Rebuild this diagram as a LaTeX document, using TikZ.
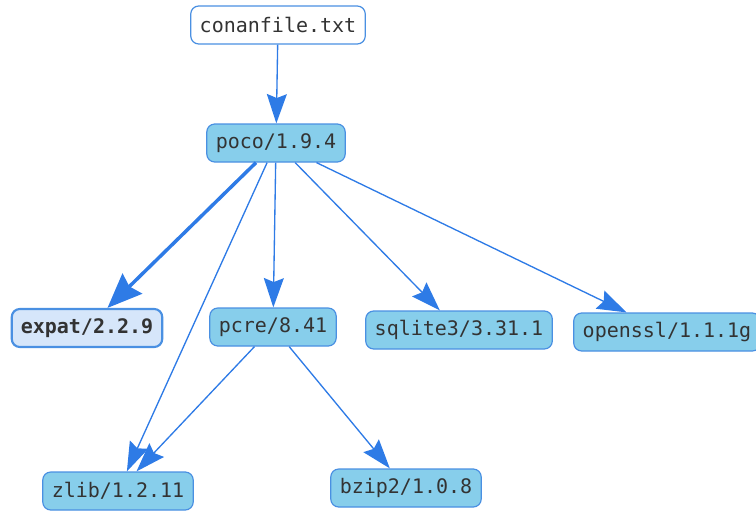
\documentclass[tikz,border=0pt]{standalone}
\usepackage{fontspec}
\setmonofont{DejaVu Sans Mono}
\usetikzlibrary{arrows.meta}
\definecolor{pkgfill}{HTML}{87CEEB}
\definecolor{pkgline}{HTML}{4A90E2}
\definecolor{edgeblue}{HTML}{2E7BE6}
\definecolor{rootfill}{HTML}{D6E6FA}
\definecolor{txtgray}{HTML}{333333}

\begin{document}
\begin{tikzpicture}[x=0.75pt,y=-0.75pt,
  pkg/.style={draw=pkgline, fill=pkgfill, rounded corners=6pt, line width=0.9pt,
    inner xsep=6.75pt, inner ysep=0pt, minimum height=28.5pt, text=txtgray,
    font=\ttfamily\fontsize{15}{18}\selectfont},
  dep/.style={draw=edgeblue, line width=1pt, -{Stealth[length=22pt,width=15pt,inset=3pt]}},
  root/.style={pkg, fill=white},
  direct/.style={pkg, fill=rootfill, line width=1.6pt, font=\ttfamily\bfseries\fontsize{15}{18}\selectfont}]
\useasboundingbox (0,0) rectangle (756,510);
% nodes
\node[root] (conanfile) at (278,25) {conanfile.txt};
\node[pkg] (poco) at (276,143) {poco/1.9.4};
\node[direct] (expat) at (87,328) {expat/2.2.9};
\node[pkg] (pcre) at (273,327) {pcre/8.41};
\node[pkg] (sqlite) at (459,330) {sqlite3/3.31.1};
\node[pkg] (openssl) at (667,332) {openssl/1.1.1g};
\node[pkg] (zlib) at (118,491) {zlib/1.2.11};
\node[pkg] (bzip) at (406,488) {bzip2/1.0.8};
% edges
\draw[dep] (conanfile) -- (poco);
\draw[dep, line width=2.6pt, -{Stealth[length=26pt,width=21pt,inset=3pt]}] (poco) -- (expat);
\draw[dep] (poco) -- (zlib);
\draw[dep] (poco) -- (pcre);
\draw[dep] (poco) -- (sqlite);
\draw[dep] (poco) -- (openssl);
\draw[dep] (pcre) -- (zlib);
\draw[dep] (pcre) -- (bzip);
\end{tikzpicture}
\end{document}
